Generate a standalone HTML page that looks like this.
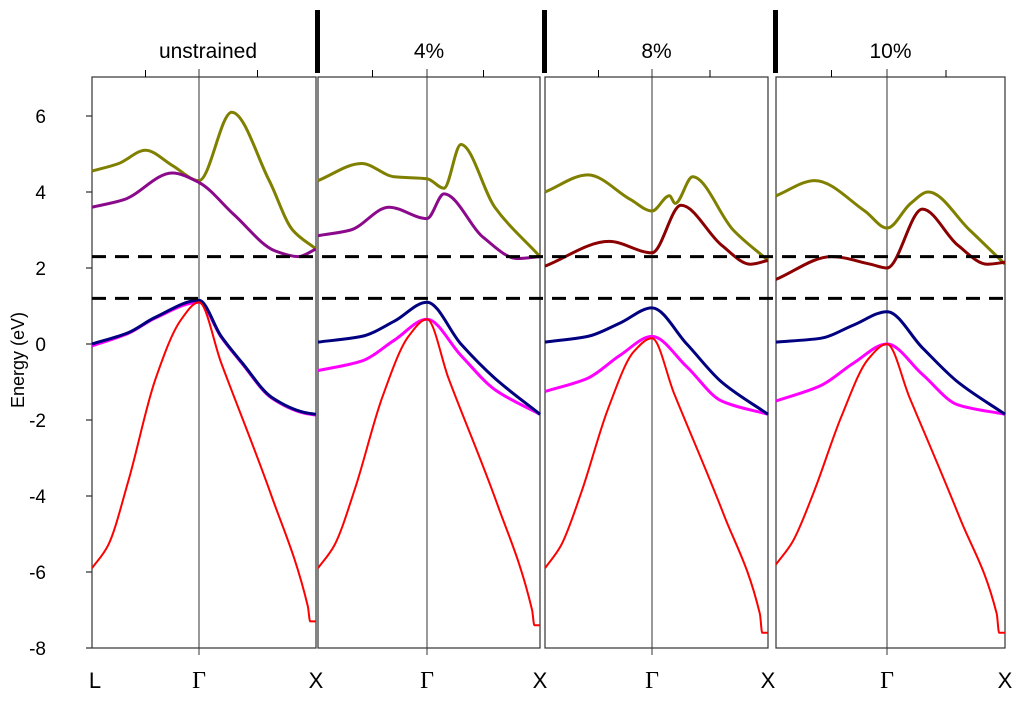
<!DOCTYPE html>
<html><head><meta charset="utf-8"><style>
body{margin:0;background:#fff;}
svg text{font-family:"Liberation Sans",sans-serif;}
</style></head><body>
<svg id="chart" width="1024" height="698" xmlns="http://www.w3.org/2000/svg">
<g id="axes"></g>
<g id="bands"></g>
</svg>
<script>
// k positions: 0 = L, 1 = Gamma, 2 = X
const panelTitles = ["unstrained", "4%", "8%", "10%"];
const yTicks = [6, 4, 2, 0, -2, -4, -6, -8];
const dashedLevels = [2.3, 1.2];
const bandColors = {olive:"#808000", upper:"#8b0a8b", upperRed:"#8b0000", navy:"#000080", magenta:"#ff00ff", red:"#ff0000"};

const p1Olive   = [[0,4.55],[0.25,4.75],[0.5,5.1],[0.75,4.7],[1,4.3],[1.28,6.1],[1.6,4.3],[1.8,3.0],[2,2.5]];
const p1Upper   = [[0,3.6],[0.3,3.8],[0.75,4.5],[1,4.25],[1.3,3.4],[1.65,2.45],[1.85,2.3],[2,2.5]];
const p1Navy    = [[0,0],[0.34,0.3],[0.59,0.7],[1,1.15],[1.19,0.2],[1.37,-0.5],[1.62,-1.4],[1.9,-1.8],[2,-1.85]];
const p1Magenta = [[0,-0.05],[0.34,0.28],[0.59,0.68],[1,1.1],[1.19,0.18],[1.37,-0.52],[1.62,-1.42],[1.9,-1.82],[2,-1.87]];
const p1Red     = [[0,-5.9],[0.15,-5.3],[0.34,-3.6],[0.59,-0.95],[0.83,0.63],[1,1.1],[1.19,-0.5],[1.62,-4.0],[1.93,-6.9],[1.95,-7.3],[2,-7.3]];

const p2Olive   = [[0,4.3],[0.4,4.75],[0.7,4.4],[1,4.35],[1.15,4.1],[1.3,5.25],[1.6,3.6],[2,2.3]];
const p2Upper   = [[0,2.85],[0.3,3.0],[0.65,3.6],[1,3.3],[1.15,3.95],[1.5,2.8],[1.8,2.25],[2,2.3]];
const p2Navy    = [[0,0.05],[0.4,0.2],[0.7,0.6],[1,1.1],[1.3,0.0],[1.6,-0.9],[2,-1.85]];
const p2Magenta = [[0,-0.7],[0.4,-0.45],[0.7,0.1],[1,0.65],[1.3,-0.3],[1.6,-1.2],[2,-1.85]];
const p2Red     = [[0,-5.9],[0.15,-5.3],[0.34,-3.8],[0.59,-1.4],[0.83,0.2],[1,0.65],[1.19,-0.9],[1.62,-4.2],[1.93,-7.0],[1.95,-7.4],[2,-7.4]];

const p3Olive   = [[0,4.0],[0.4,4.45],[0.8,3.8],[1,3.5],[1.15,3.9],[1.2,3.7],[1.35,4.4],[1.7,3.0],[2,2.2]];
const p3Upper   = [[0,2.05],[0.6,2.7],[1,2.4],[1.25,3.65],[1.6,2.6],[1.85,2.1],[2,2.2]];
const p3Navy    = [[0,0.05],[0.4,0.2],[0.7,0.55],[1,0.95],[1.3,0.0],[1.6,-1.0],[2,-1.85]];
const p3Magenta = [[0,-1.25],[0.4,-0.9],[0.7,-0.3],[1,0.2],[1.3,-0.6],[1.6,-1.5],[2,-1.85]];
const p3Red     = [[0,-5.9],[0.15,-5.3],[0.34,-3.9],[0.59,-1.7],[0.83,-0.2],[1,0.15],[1.19,-1.3],[1.62,-4.5],[1.93,-7.1],[1.95,-7.6],[2,-7.6]];

const p4Olive   = [[0,3.9],[0.35,4.3],[0.8,3.5],[1,3.05],[1.2,3.7],[1.35,4.0],[1.7,3.0],[2,2.1]];
const p4Upper   = [[0,1.7],[0.5,2.3],[0.85,2.1],[1,2.0],[1.3,3.55],[1.6,2.6],[1.85,2.1],[2,2.15]];
const p4Navy    = [[0,0.05],[0.4,0.15],[0.7,0.5],[1,0.85],[1.3,-0.1],[1.6,-1.0],[2,-1.85]];
const p4Magenta = [[0,-1.5],[0.4,-1.1],[0.7,-0.5],[1,0.0],[1.3,-0.8],[1.6,-1.6],[2,-1.85]];
const p4Red     = [[0,-5.8],[0.15,-5.2],[0.34,-3.9],[0.59,-1.9],[0.83,-0.4],[1,0.0],[1.19,-1.4],[1.62,-4.6],[1.93,-7.1],[1.95,-7.6],[2,-7.6]];

const panels = [
 {x0:92,g:199,x1:316,upperColor:"upper",bands:[p1Olive,p1Upper,p1Navy,p1Magenta,p1Red]},
 {x0:318,g:427,x1:540,upperColor:"upper",bands:[p2Olive,p2Upper,p2Navy,p2Magenta,p2Red]},
 {x0:545,g:652,x1:768,upperColor:"upperRed",bands:[p3Olive,p3Upper,p3Navy,p3Magenta,p3Red]},
 {x0:776,g:887,x1:1005,upperColor:"upperRed",bands:[p4Olive,p4Upper,p4Navy,p4Magenta,p4Red]}
];

const NS="http://www.w3.org/2000/svg";
const axes=document.getElementById('axes'), bandsG=document.getElementById('bands');
const yScale=e=>344-38*e;
function xScale(p,k){return k<=1? p.x0+(p.g-p.x0)*k : p.g+(p.x1-p.g)*(k-1);}
function mk(tag,attrs,parent){const el=document.createElementNS(NS,tag);for(const a in attrs)el.setAttribute(a,attrs[a]);parent.appendChild(el);return el;}

// monotone cubic path (no overshoot)
function monoPath(pts){
  const n=pts.length, s=[], m=[];
  for(let i=0;i<n-1;i++){const dx=pts[i+1][0]-pts[i][0];s.push(dx===0?0:(pts[i+1][1]-pts[i][1])/dx);}
  for(let i=0;i<n;i++){
    if(i===0)m.push(s[0]);else if(i===n-1)m.push(s[n-2]);
    else if(s[i-1]*s[i]<=0)m.push(0);
    else m.push(2/(1/s[i-1]+1/s[i]));
  }
  let d='M'+pts[0][0]+','+pts[0][1];
  for(let i=0;i<n-1;i++){
    const dx=(pts[i+1][0]-pts[i][0])/3;
    d+=` C${pts[i][0]+dx},${pts[i][1]+m[i]*dx} ${pts[i+1][0]-dx},${pts[i+1][1]-m[i+1]*dx} ${pts[i+1][0]},${pts[i+1][1]}`;
  }
  return d;
}

yTicks.forEach(t=>{
  const y=yScale(t);
  const tk=mk('line',{x1:86,x2:92,y1:y,y2:y,stroke:'#000'},axes);
  
  
  const lb=mk('text',{x:46,y:y+7,'font-size':19,'text-anchor':'end'},axes);
  lb.textContent=t;
  
  
});
const yt=mk('text',{x:24,y:360,'font-size':18,'text-anchor':'middle',transform:'rotate(-90 24 360)'},axes);
yt.textContent='Energy (eV)';



panels.forEach((p,i)=>{
  const fr=mk('rect',{x:p.x0,y:77,width:p.x1-p.x0,height:571,fill:'none',stroke:'#333','stroke-width':1.2},axes);
  
  
  const gl=mk('line',{x1:p.g,x2:p.g,y1:69,y2:655,stroke:'#333','stroke-width':1},axes);
  
  
  [0.5,1.5].forEach(k=>{
    const tk=mk('line',{x1:xScale(p,k),x2:xScale(p,k),y1:70,y2:77,stroke:'#000'},axes);
    
    
  });
  const tt=mk('text',{x:(p.x0+p.x1)/2+(i==0?4:0),y:58,'font-size':21,'text-anchor':'middle'},axes);
  tt.textContent=panelTitles[i];
  
  
  const labels=i==0?[[0,'L'],[1,'Γ'],[2,'X']]:[[1,'Γ'],[2,'X']];
  labels.forEach(([k,s])=>{
    const t=mk('text',{x:xScale(p,k)+(k==0?3:0),y:688,'font-size':22,'text-anchor':'middle'},axes);
    if(s==='Γ')t.setAttribute('style','font-family:"Liberation Serif",serif;font-size:24px');
    t.textContent=s;
    
    
  });
  if(i>0){
    const sep=mk('rect',{x:p.x0-3,y:10,width:5,height:63,fill:'#000'},axes);
    
    
  }
  const cols=[bandColors.olive,bandColors[p.upperColor],bandColors.navy,bandColors.magenta,bandColors.red];
  const widths=[3,3,3,3,2];
  const order=[0,1,3,2,4];
  order.forEach(j=>{
    const b=p.bands[j];
    const pts=b.map(([k,e])=>[xScale(p,k),yScale(e)]);
    const path=mk('path',{d:monoPath(pts),fill:'none',stroke:cols[j],'stroke-width':widths[j]},bandsG);
    
    
  });
});
dashedLevels.forEach(e=>{
  const l=mk('line',{x1:92,x2:1005,y1:yScale(e),y2:yScale(e),stroke:'#000','stroke-width':3,'stroke-dasharray':'14 9'},bandsG);
  
  
});
</script>
</body></html>
